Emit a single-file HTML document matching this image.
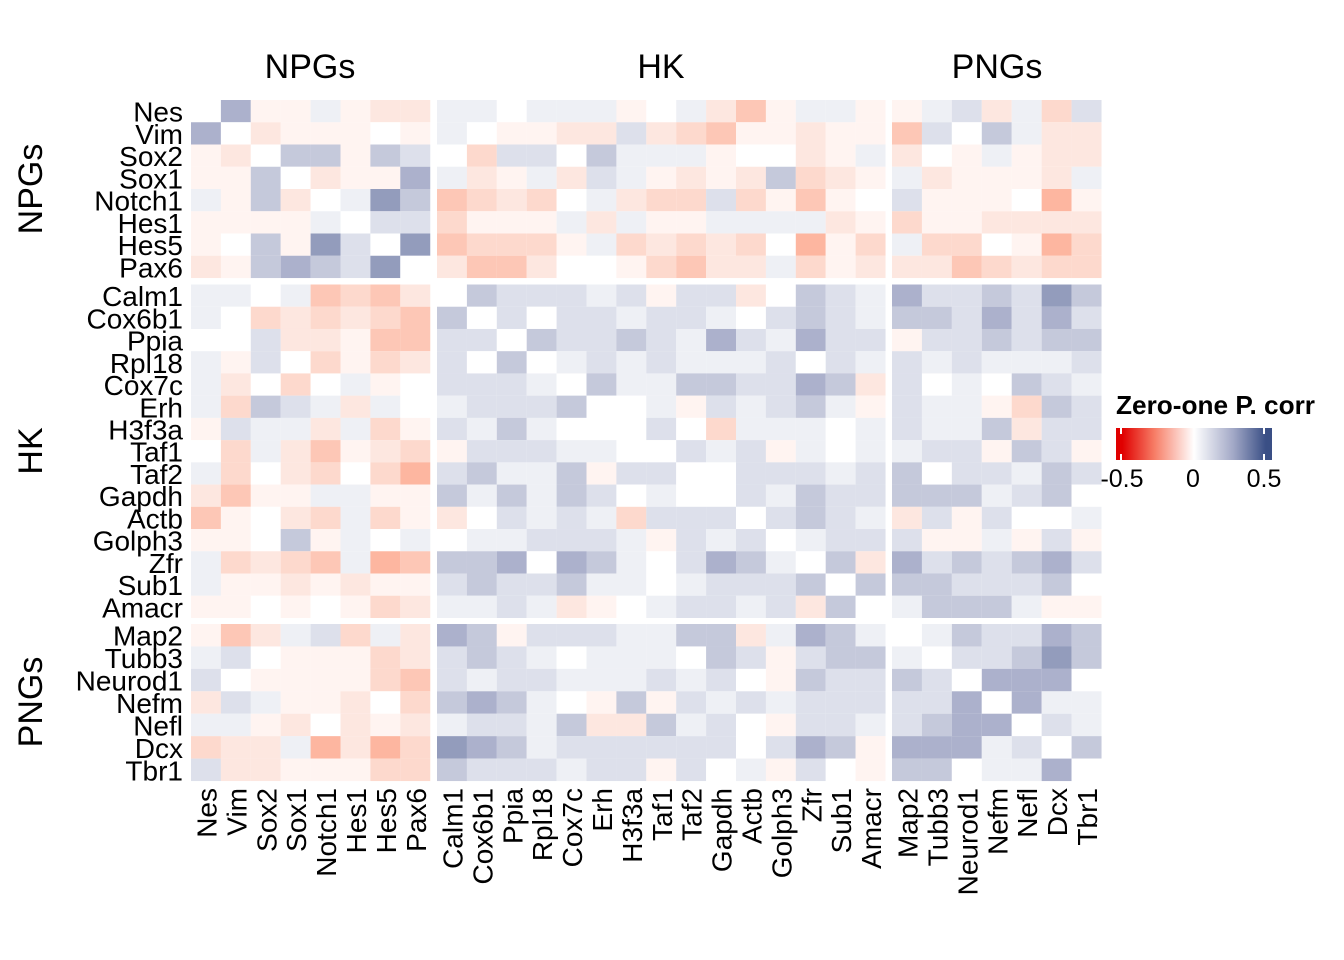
<!DOCTYPE html>
<html><head><meta charset="utf-8"><style>
html,body{margin:0;padding:0;background:#fff;}
svg{display:block;font-family:"Liberation Sans",Arial,sans-serif;}
</style></head><body>
<svg id="s" width="1344" height="960" viewBox="0 0 1344 960" xmlns="http://www.w3.org/2000/svg">
<defs><linearGradient id="g" x1="0" x2="1" y1="0" y2="0">
<stop offset="0" stop-color="#e00000"/><stop offset="0.04" stop-color="#e00000"/><stop offset="0.25" stop-color="#f77f68"/><stop offset="0.5" stop-color="#ffffff"/><stop offset="0.75" stop-color="#a3a9c7"/><stop offset="0.96" stop-color="#3a4f85"/><stop offset="1" stop-color="#3a4f85"/></linearGradient></defs>
<g id="cells"></g>
<g font-size="34" text-anchor="middle">
<text x="310" y="78">NPGs</text><text x="661" y="78">HK</text><text x="997" y="78">PNGs</text>
<text transform="translate(42,189) rotate(-90)">NPGs</text>
<text transform="translate(42,451) rotate(-90)">HK</text>
<text transform="translate(42,702) rotate(-90)">PNGs</text>
</g>
<g id="rl" font-size="28" text-anchor="end"></g>
<g id="cl" font-size="28" text-anchor="end"></g>
<text x="1116" y="414" font-size="26" font-weight="bold" textLength="199" lengthAdjust="spacingAndGlyphs">Zero-one P. corr</text>
<rect x="1116" y="428" width="156" height="32" fill="url(#g)"/>
<g stroke="#fff" stroke-width="2"><line x1="1121" y1="428" x2="1121" y2="434"/><line x1="1121" y1="454" x2="1121" y2="460"/><line x1="1264" y1="428" x2="1264" y2="434"/><line x1="1264" y1="454" x2="1264" y2="460"/></g>
<g font-size="25" text-anchor="middle"><text x="1122" y="487">-0.5</text><text x="1193" y="487">0</text><text x="1264" y="487">0.5</text></g>
</svg>
<script>
var names=["Nes","Vim","Sox2","Sox1","Notch1","Hes1","Hes5","Pax6","Calm1","Cox6b1","Ppia","Rpl18","Cox7c","Erh","H3f3a","Taf1","Taf2","Gapdh","Actb","Golph3","Zfr","Sub1","Amacr","Map2","Tubb3","Neurod1","Nefm","Nefl","Dcx","Tbr1"];
var rows=[
"0dAAaABB"+"aa0aaaA0aBDAaaA"+"AabBaCb",
"d0BAAA0A"+"a0AABBbBCDAABAA"+"Db0caBB",
"AB0ccAcb"+"0Cbb0caaaA00BAa"+"B0AaABB",
"AAc0BAAd"+"aBAaBbaABABcCBA"+"aBAAABa",
"aAcB0aec"+"DCBC0aBCCbCADA0"+"bAAA0EA",
"AAAAa0bb"+"CAAAaBaAAaaaaBA"+"CAABBBB",
"A0cAeb0e"+"DCCCAaCBCBC0EAC"+"aCC0AEC",
"BAcdcbe0"+"BDDB00ACDBBaCAB"+"BBDCBCC",
"aa0aDCDB"+"0cbbbabAbbB0cba"+"dbbcbec",
"a0CBCBCD"+"c0b0bbabba0bcba"+"ccbdbdb",
"00bBBADD"+"bb0cbbcbadbadbb"+"Abbcbcc",
"aAb0CACB"+"b0c0ababaaab0ba"+"babaaab",
"aB0C0aA0"+"bbba0caaccbbdcB"+"b0a0cba",
"aCcbaBa0"+"abbbc00aAbabcaA"+"baaACcb",
"AbaaBaCA"+"baca000b0Caaa0a"+"baacBbb",
"0CaBDABC"+"Abbbaa00babAa0a"+"abbAcbA",
"aC0BC0CE"+"bcaacAbb00bbbab"+"c0bbacb",
"BDAAaaAA"+"cacacb0a00bacbb"+"cccabc0",
"DA0BCaCA"+"B0babaCbbb0bcba"+"BbAb00a",
"AA0cAa0a"+"0aabbbaAbab0abb"+"bAAaAbA",
"aCBCDaED"+"ccd0dca0bdca0cB"+"dbcbcdb",
"aAABABAA"+"bcbbcaa0abbbc0c"+"ccbbbc0",
"AA0A0ACB"+"aabaBA0abbabBc0"+"acccaAA",
"ADBabCaB"+"dcAbbbaaccBadca"+"0acbbdc",
"ab0AAACB"+"bcba0aaa0cbAbcc"+"a0bbcec",
"b0AAAACD"+"babbaaabab0Acbb"+"cb0ddd0",
"BbaAAB0C"+"cdca0AcAbababbb"+"bbd0daa",
"aaAB0BAB"+"abbacBBcab0Abba"+"bcdd0ba",
"CBBaEBEC"+"edcabbbbbb0bdcA"+"dddab0c",
"bBBAAACC"+"cbbbabbAb0aAb0A"+"cc0aad0"];
var col={"0":"#ffffff","a":"#eef0f5","b":"#dde0eb","c":"#c5c9db","d":"#acb1cc","e":"#939cbc","A":"#fff4f1","B":"#fde7e0","C":"#fdd9cd","D":"#fdc7b6","E":"#fdb6a0"};
function cx(j){ if(j<8) return 191+29.9*j; if(j<23) return 437+29.9*(j-8); return 892+29.93*(j-23);}
function cy(i){ if(i<8) return 100+22.25*i; if(i<23) return 284.5+22.23*(i-8); return 624+22.43*(i-23);}
function ch(i){ return i<8?22.25:(i<23?22.23:22.43);}
var NS="http://www.w3.org/2000/svg",g=document.getElementById("cells");
for(var i=0;i<30;i++){var r=rows[i];for(var j=0;j<30;j++){var c=r.charAt(j)||"0";var e=document.createElementNS(NS,"rect");
e.setAttribute("x",cx(j));e.setAttribute("y",cy(i));e.setAttribute("width",29.95);e.setAttribute("height",ch(i)+0.05);e.setAttribute("fill",col[c]||"#fff");g.appendChild(e);}}
var rl=document.getElementById("rl"),cl=document.getElementById("cl");
for(var i=0;i<30;i++){var t=document.createElementNS(NS,"text");t.setAttribute("x",183);t.setAttribute("y",cy(i)+ch(i)/2+10.5);t.textContent=names[i];rl.appendChild(t);
var u=document.createElementNS(NS,"text");var x=cx(i)+15+10.5;u.setAttribute("transform","translate("+x+",788) rotate(-90)");u.textContent=names[i];cl.appendChild(u);}
</script>
</body></html>
